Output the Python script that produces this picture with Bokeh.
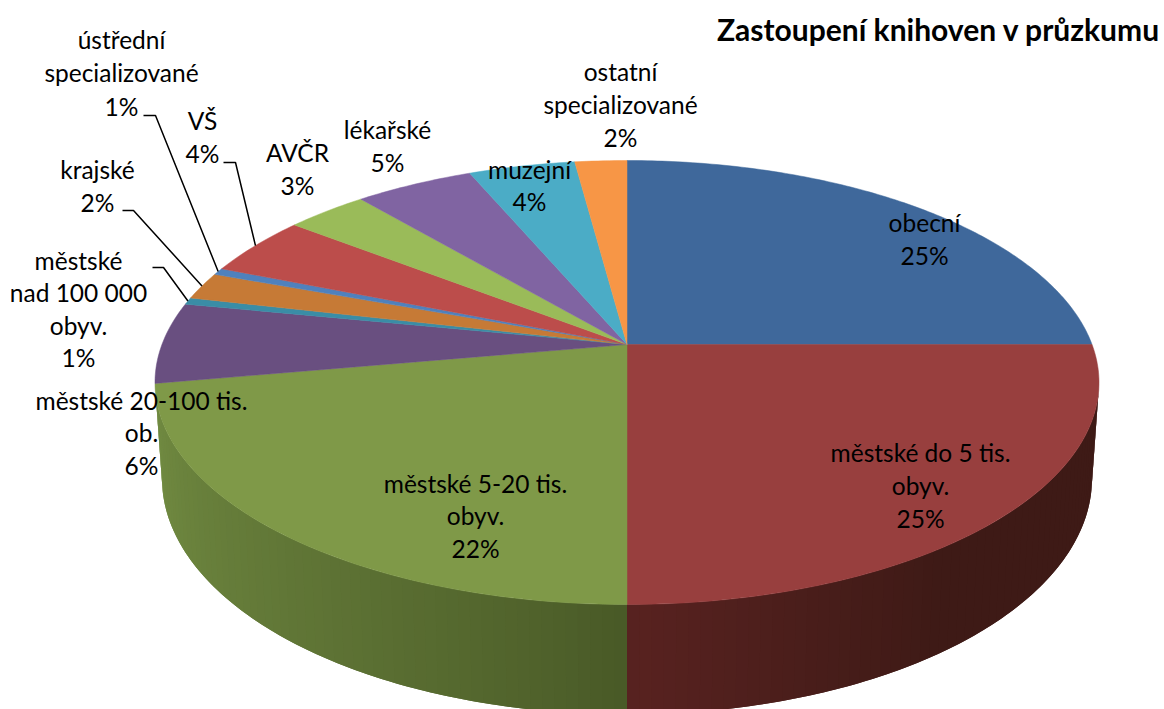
import numpy as np
from bokeh.plotting import figure
from bokeh.models import Range1d, ColumnDataSource
from bokeh.core.properties import value
from bokeh.embed import file_html
from bokeh.resources import INLINE

# ---- data (clockwise from 12 o'clock)
categories = ["obecní", "městské do 5 tis. obyv.", "městské 5-20 tis. obyv.", "městské 20-100 tis. ob.",
              "městské nad 100 000 obyv.", "krajské", "ústřední specializované", "VŠ", "AVČR",
              "lékařské", "muzejní", "ostatní specializované"]
shares = [25.0, 25.0, 22.2, 5.9, 0.5, 2.0, 0.5, 4.4, 3.3, 4.8, 4.3, 2.1]
percent_labels = ["25%", "25%", "22%", "6%", "1%", "2%", "1%", "4%", "3%", "5%", "4%", "2%"]
slice_colors = ["#3F689B", "#983F3E", "#7F9948", "#694F80", "#3A8DA6", "#C67A36",
                "#4F81BD", "#BC4D4B", "#9ABB59", "#8064A2", "#4BACC6", "#F79646"]
title_text = "Zastoupení knihoven v průzkumu"

# ---- style / layout
FONT = "Lato"
FS = "24.5px"
CX, CY_TOP, RX_TOP, RY_TOP = 626.5, 382.0, 472.0, 222.0   # rim of the top face
CY_BOT, RX_BOT, RY_BOT = 478.0, 465.0, 236.0              # rim of the base
PIVOT_Y = 344.0
A = (CY_TOP - PIVOT_Y) / RY_TOP
S = np.sqrt(1 - A * A)


def project(theta):
    """True pie angle (radians, clockwise from top) -> picture position, in perspective."""
    u, v = np.sin(theta), np.cos(theta)
    d = 1 + A * v
    return CX + RX_TOP * u * S / d, CY_TOP - RY_TOP * (v + A) / d


p = figure(width=1164, height=709, output_backend="svg", toolbar_location=None,
           x_range=Range1d(0, 1164), y_range=Range1d(709, 0), min_border=0,
           outline_line_color=None, background_fill_color="white", border_fill_color="white")
p.axis.visible = False
p.grid.visible = False

# ---- outer wall, in thin strips so that the shading changes along it
def wall_color(phi):
    t = (phi - np.pi / 2) / (np.pi / 2)  # -1 right .. 0 front .. 1 left
    if t >= 0:
        c = np.array([72, 88, 38]) + (np.array([114, 140, 66]) - np.array([72, 88, 38])) * t ** 0.8
    else:
        c = np.array([62, 26, 22]) + (np.array([88, 34, 32]) - np.array([62, 26, 22])) * max(0.0, 1 + t * 2.2)
    return "#%02x%02x%02x" % tuple(int(round(x)) for x in c)


# strips overlap the next one and are painted towards the front from both ends, so no seams show
phis = np.linspace(0, np.pi, 121)
step = phis[1] - phis[0]
strips = [(a, min(a + 2 * step, np.pi / 2)) for a in phis[:60]] + \
         [(b, max(b - 2 * step, np.pi / 2)) for b in phis[::-1][:60]]
wx, wy, wc = [], [], []
for a, b in strips:
    n = np.linspace(a, b, 4)
    wx.append(list(CX + RX_TOP * np.cos(n)) + list(CX + RX_BOT * np.cos(n[::-1])))
    wy.append(list(CY_TOP + RY_TOP * np.sin(n)) + list(CY_BOT + RY_BOT * np.sin(n[::-1])))
    wc.append(wall_color(a + (b - a) / 4))
p.patches("x", "y", source=ColumnDataSource(dict(x=wx, y=wy, c=wc)), fill_color="c", line_color=None)

# ---- top face, from the shares
total = sum(shares)
edges = np.cumsum([0.0] + shares) / total * 2 * np.pi
tx, ty = [], []
for a, b in zip(edges[:-1], edges[1:]):
    th = np.linspace(a, b, max(3, int((b - a) * 80)))
    x, y = project(th)
    tx.append([CX] + list(x))
    ty.append([PIVOT_Y] + list(y))
p.patches("x", "y", source=ColumnDataSource(dict(x=tx, y=ty, c=slice_colors)),
          fill_color="c", line_color="c", line_width=0.5)

# ---- leader lines: label end, elbow, then the middle of the slice's rim
leaders = {"VŠ": ((223, 162), (235, 162)),
           "ústřední specializované": ((143, 115), (155, 115)),
           "krajské": ((122, 210), (133, 210)),
           "městské nad 100 000 obyv.": ((152, 267), (163, 267))}
for name, (start, elbow) in leaders.items():
    i = categories.index(name)
    ex, ey = project((edges[i] + edges[i + 1]) / 2)
    p.line([start[0], elbow[0], float(ex)], [start[1], elbow[1], float(ey)], line_color="black", line_width=1.5)

# ---- labels: (centre x, first line centre y, step, lines)
label_layout = {
    "obecní": (924, 221.5, 33, ["obecní"]),
    "městské do 5 tis. obyv.": (920, 451.5, 33, ["městské do 5 tis.", "obyv."]),
    "městské 5-20 tis. obyv.": (475, 482.5, 32.5, ["městské 5-20 tis.", "obyv."]),
    "městské 20-100 tis. ob.": (141, 399.5, 32.5, ["městské 20-100 tis.", "ob."]),
    "městské nad 100 000 obyv.": (78, 259.5, 32.5, ["městské", "nad 100 000", "obyv."]),
    "krajské": (97, 168.5, 33, ["krajské"]),
    "ústřední specializované": (121, 38.5, 33.5, ["ústřední", "specializované"]),
    "VŠ": (202, 119.5, 33, ["VŠ"]),
    "AVČR": (297, 151.5, 33, ["AVČR"]),
    "lékařské": (387, 128.5, 33, ["lékařské"]),
    "muzejní": (529, 168.5, 32, ["muzejní"]),
    "ostatní specializované": (620, 70.5, 33, ["ostatní", "specializované"]),
}
lx, ly, lt = [], [], []
for name, pct in zip(categories, percent_labels):
    x0, y0, step_y, lines = label_layout[name]
    for k, s in enumerate(lines + [pct]):
        lx.append(x0)
        ly.append(y0 + k * step_y)
        lt.append(s)
p.text(lx, ly, text=lt, text_font=value(FONT), text_font_size=value(FS), text_color="black",
       text_align="center", text_baseline="middle")

p.text([1160], [28], text=[title_text], text_font=value(FONT), text_font_size=value("30px"), text_font_style="bold",
       text_color="black", text_align="right", text_baseline="middle")

open("out.html", "w").write(file_html(p, INLINE))
